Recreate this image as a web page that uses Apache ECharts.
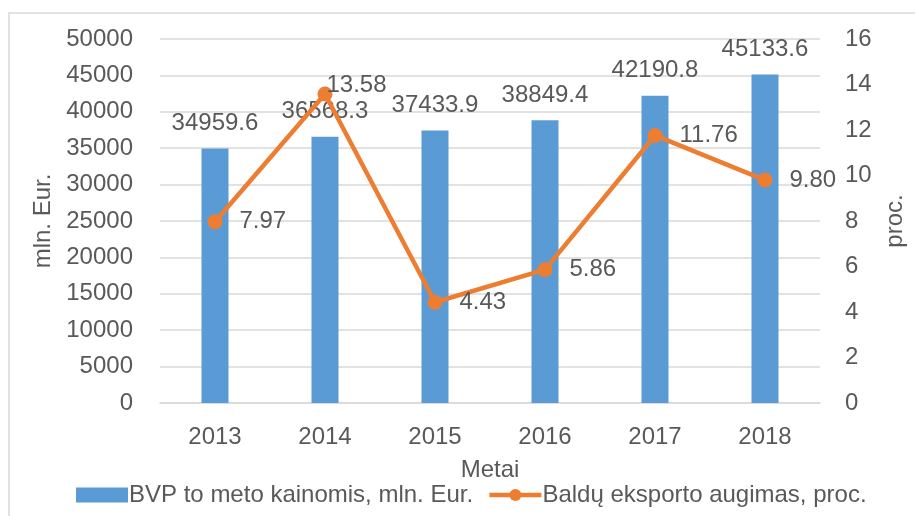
<!DOCTYPE html>
<html>
<head>
<meta charset="utf-8">
<script src="https://cdn.jsdelivr.net/npm/echarts@6/dist/echarts.min.js"></script>
<style>html,body{margin:0;padding:0;background:#fff}#c{width:915px;height:516px}</style>
</head>
<body>
<div id="c"></div>
<script>
const years = ['2013', '2014', '2015', '2016', '2017', '2018'];
const gdp = [34959.6, 36568.3, 37433.9, 38849.4, 42190.8, 45133.6];
const exportGrowth = [7.97, 13.58, 4.43, 5.86, 11.76, 9.80];
const gdpName = 'BVP to meto kainomis, mln. Eur.';
const growthName = 'Baldų eksporto augimas, proc.';

const FONT = 'Liberation Sans';
const TXT = '#595959';
const FS = 24;

const chart = echarts.init(document.getElementById('c'), null, {renderer: 'canvas'});
chart.setOption({
  animation: false,
  textStyle: {fontFamily: FONT, color: TXT},
  graphic: [{
    type: 'rect', silent: true,
    shape: {x: 9, y: 13, width: 1200, height: 1200},
    style: {fill: 'none', stroke: '#D9D9D9', lineWidth: 1.5}
  }],
  grid: {left: 160, right: 95, top: 39, bottom: 113},
  legend: {
    left: 71, top: 478,
    itemWidth: 52, itemHeight: 15, itemGap: 14,
    textStyle: {fontFamily: FONT, fontSize: FS, color: TXT, padding: [0, 0, 0, -4]},
    data: [
      {name: gdpName, icon: 'rect'},
      {name: growthName, lineStyle: {width: 4.5}, itemStyle: {color: '#ED7D31'}}
    ]
  },
  xAxis: {
    type: 'category', data: years,
    name: 'Metai', nameLocation: 'middle', nameGap: 55,
    nameTextStyle: {fontFamily: FONT, fontSize: FS, color: TXT},
    axisLine: {lineStyle: {color: '#D9D9D9', width: 1.5}},
    axisTick: {show: false},
    axisLabel: {fontFamily: FONT, fontSize: FS, color: TXT, margin: 22}
  },
  yAxis: [{
    type: 'value', min: 0, max: 50000, interval: 5000,
    name: 'mln. Eur.', nameLocation: 'middle', nameGap: 103, nameRotate: 90,
    nameTextStyle: {fontFamily: FONT, fontSize: FS, color: TXT},
    axisLine: {show: false}, axisTick: {show: false},
    axisLabel: {fontFamily: FONT, fontSize: FS, color: TXT, margin: 27, formatter: v => String(v)},
    splitLine: {lineStyle: {color: '#D9D9D9', width: 1.5}}
  }, {
    type: 'value', min: 0, max: 16, interval: 2, position: 'right',
    name: 'proc.', nameLocation: 'middle', nameGap: 63, nameRotate: 90,
    nameTextStyle: {fontFamily: FONT, fontSize: FS, color: TXT},
    axisLine: {show: false}, axisTick: {show: false},
    axisLabel: {fontFamily: FONT, fontSize: FS, color: TXT, margin: 25},
    splitLine: {show: false}
  }],
  series: [{
    name: gdpName, type: 'bar', data: gdp, barWidth: 27,
    itemStyle: {color: '#5B9BD5'},
    label: {show: true, position: 'top', distance: 13, fontFamily: FONT, fontSize: FS, color: TXT,
      formatter: p => p.value.toFixed(1)}
  }, {
    name: growthName, type: 'line', yAxisIndex: 1, data: exportGrowth.map((v, i) => i === 1 ? {value: v, label: {distance: 0, offset: [-6, -9]}} : v),
    symbol: 'circle', symbolSize: 15,
    lineStyle: {color: '#ED7D31', width: 4.5},
    itemStyle: {color: '#ED7D31'},
    label: {show: true, position: 'right', distance: 17, fontFamily: FONT, fontSize: FS, color: TXT,
      formatter: p => p.value.toFixed(2)}
  }]
});
</script>
</body>
</html>
